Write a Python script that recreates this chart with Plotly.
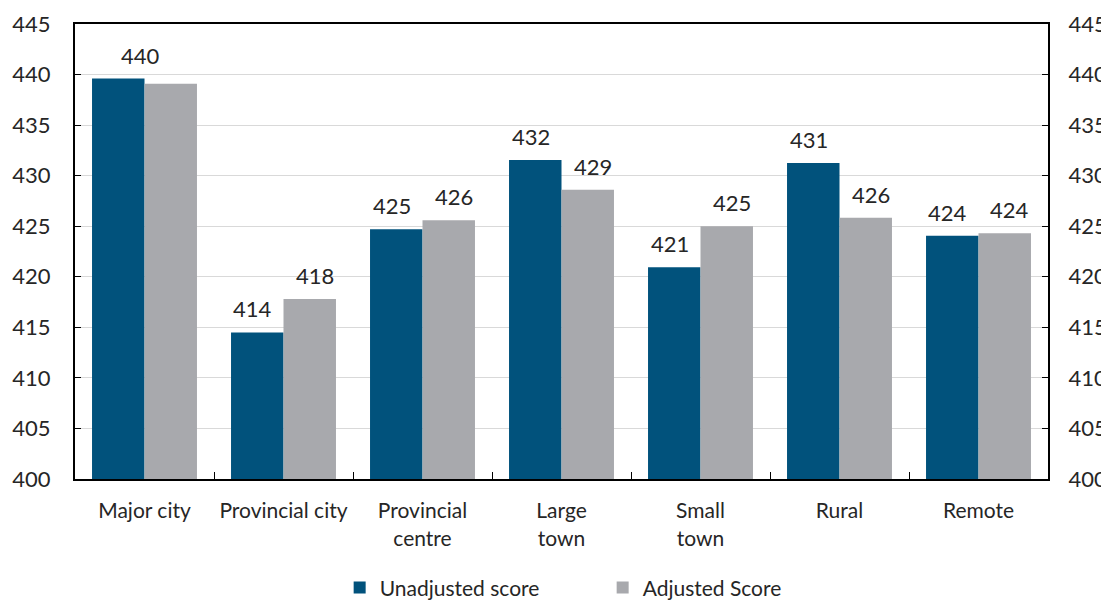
import plotly.graph_objects as go

# Chart data
categories = ["Major city", "Provincial city", "Provincial<br>centre", "Large<br>town",
              "Small<br>town", "Rural", "Remote"]
unadjusted = [439.6, 414.5, 424.7, 431.55, 420.95, 431.25, 424.05]
adjusted = [439.1, 417.8, 425.6, 428.6, 425.0, 425.85, 424.3]
y_ticks = list(range(400, 450, 5))

BLUE = "#01527C"
GREY = "#A8A9AD"
TXT = "#262626"
FONT = "Lato"

fig = go.Figure()
fig.add_trace(go.Bar(x=categories, y=unadjusted, name="Unadjusted score",
                     marker=dict(color=BLUE, line=dict(width=0))))
fig.add_trace(go.Bar(x=categories, y=adjusted, name="Adjusted Score",
                     marker=dict(color=GREY, line=dict(width=0))))

# value labels above the bars (Major city shows a single label)
label_font = dict(size=22, color=TXT, family=FONT)
for i, cat in enumerate(categories):
    if i == 0:
        fig.add_annotation(x=cat, y=unadjusted[i], text=f"{unadjusted[i]:.0f}",
                           showarrow=False, yanchor="bottom", xshift=-4, yshift=8,
                           font=label_font)
        continue
    for vals, dx in ((unadjusted, -31), (adjusted, 31)):
        fig.add_annotation(x=cat, y=vals[i], text=f"{vals[i]:.0f}",
                           showarrow=False, yanchor="bottom", xshift=dx, yshift=8,
                           font=label_font)

# page body has an 8px margin, so the figure is a bit smaller than the window
fig.update_layout(
    width=1101, height=593,
    margin=dict(l=67, r=61, t=16, b=122, autoexpand=False),
    paper_bgcolor="white", plot_bgcolor="white",
    barmode="group", bargap=0.245, bargroupgap=0,
    font=dict(family=FONT, size=20, color=TXT),
    showlegend=True,
    legend=dict(
        orientation="h", x=0.272, xanchor="left", y=0.022, yref="container",
        yanchor="middle",
        font=dict(size=21, color=TXT, family=FONT), itemwidth=30,
        entrywidthmode="pixels", entrywidth=218,
    ),
    xaxis=dict(
        showline=True, linecolor="black", linewidth=2, mirror=True,
        ticks="inside", tickson="boundaries", ticklen=7, tickcolor="black",
        tickfont=dict(size=21, color=TXT, family=FONT), ticklabelstandoff=12,
        tickangle=0, showgrid=False, automargin=False,
    ),
    yaxis=dict(
        range=[400, 445], tickvals=y_ticks, showline=True, linecolor="black",
        linewidth=2, ticks="inside", ticklen=6, tickcolor="black",
        showgrid=True, gridcolor="#D9D9D9", gridwidth=1,
        tickfont=dict(size=22, color=TXT, family=FONT), ticklabelstandoff=18,
        zeroline=False, automargin=False,
    ),
    yaxis2=dict(
        range=[400, 445], tickvals=y_ticks, overlaying="y", side="right",
        showline=True, linecolor="black", linewidth=2,
        ticks="inside", ticklen=6, tickcolor="black", showgrid=False,
        tickfont=dict(size=22, color=TXT, family=FONT), ticklabelstandoff=14,
        zeroline=False, automargin=False,
    ),
)

# invisible trace so the right axis is drawn
fig.add_trace(go.Scatter(x=[categories[0]], y=[400], yaxis="y2", mode="markers",
                         marker=dict(opacity=0), showlegend=False, hoverinfo="skip"))

fig.write_html("out.html")
